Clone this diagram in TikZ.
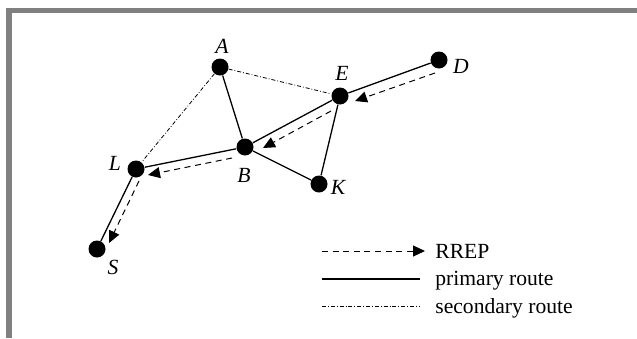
\documentclass[tikz,border=0pt]{standalone}
\usepackage{fontspec}
\setmainfont{Liberation Serif}
\usetikzlibrary{arrows.meta,calc}
\definecolor{frame}{HTML}{808080}
\tikzset{
  host/.style={circle,fill=black,minimum size=8.5pt,inner sep=0pt},
  tag/.style={font=\fontsize{10.8}{12}\selectfont\itshape,inner sep=0pt},
  primary/.style={line width=0.65pt},
  secondary/.style={line width=0.4pt,dash pattern=on 2pt off 1pt on 0.4pt off 1pt},
  rrep/.style={line width=0.5pt,dash pattern=on 3pt off 2.3pt,-{Triangle[length=6pt,width=5.5pt]}},
  legtext/.style={font=\fontsize{10.8}{12}\selectfont,anchor=west,inner sep=0pt}
}
\begin{document}
\begin{tikzpicture}[x=0.5pt,y=-0.5pt]
  \useasboundingbox (0,0) rectangle (637,338);
  % frame
  \fill[frame] (6,8) rectangle (637,13);
  \fill[frame] (6,8) rectangle (12,338);

  % hosts
  \node[host] (A) at (220,67) {};
  \node[host] (E) at (340,96) {};
  \node[host] (D) at (439,60) {};
  \node[host] (B) at (245,147) {};
  \node[host] (L) at (136,169) {};
  \node[host] (K) at (319,184) {};
  \node[host] (S) at (97,249) {};
  \node[tag] (lA) at (222,46) {A};
  \node[tag] (lE) at (342,73) {E};
  \node[tag] (lD) at (461,66) {D};
  \node[tag] (lB) at (244,175) {B};
  \node[tag] (lL) at (115,163) {L};
  \node[tag] (lK) at (338,187) {K};
  \node[tag] (lS) at (113,267) {S};

  % routes
  \draw[secondary] (A) -- (L);
  \draw[secondary] (A) -- (E);
  \draw[primary] (A) -- (B);
  \draw[primary] (D) -- (E);
  \draw[primary] (E) -- (B);
  \draw[primary] (E) -- (K);
  \draw[primary] (B) -- (K);
  \draw[primary] (B) -- (L);
  \draw[primary] (L) -- (S);

  % RREP back to source
  \coordinate (r1) at (435,73);
  \coordinate (r2) at (355,101);
  \coordinate (r3) at (331,111);
  \coordinate (r4) at (263,148);
  \coordinate (r5) at (232,158);
  \coordinate (r6) at (148,175);
  \coordinate (r7) at (139,181);
  \coordinate (r8) at (109,243);
  \draw[rrep] (r1) -- (r2);
  \draw[rrep] (r3) -- (r4);
  \draw[rrep] (r5) -- (r6);
  \draw[rrep] (r7) -- (r8);

  % legend
  \coordinate (k1) at (322,251);
  \coordinate (k2) at (425,251);
  \coordinate (k3) at (322,279);
  \coordinate (k4) at (420,279);
  \coordinate (k5) at (322,306);
  \coordinate (k6) at (420,306);
  \draw[rrep] (k1) -- (k2);
  \draw[primary] (k3) -- (k4);
  \draw[secondary] (k5) -- (k6);
  \node[legtext] (t1) at (435,251) {RREP};
  \node[legtext] (t2) at (435,281) {primary route};
  \node[legtext] (t3) at (435,308) {secondary route};
\end{tikzpicture}
\end{document}
